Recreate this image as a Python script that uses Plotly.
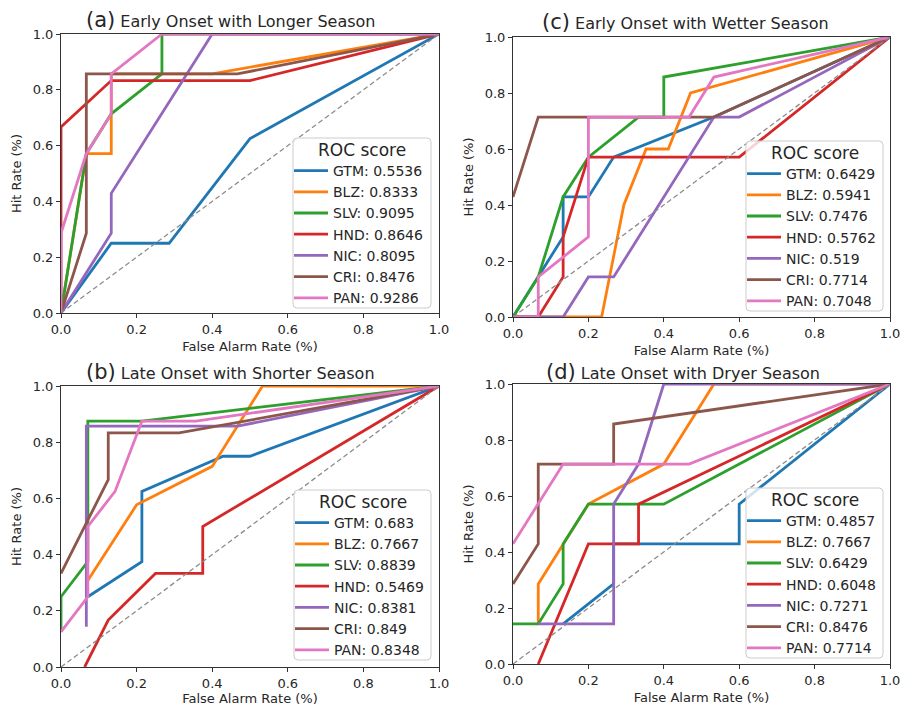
import plotly.graph_objects as go

COUNTRIES = ["GTM", "BLZ", "SLV", "HND", "NIC", "CRI", "PAN"]
COLORS = ["#1f77b4", "#ff7f0e", "#2ca02c", "#d62728", "#9467bd", "#8c564b", "#e377c2"]
TICKS = [0.0, 0.2, 0.4, 0.6, 0.8, 1.0]

# (a) Early Onset with Longer Season
A_GTM_X = [0, 0.133, 0.286, 0.5, 1.0];            A_GTM_Y = [0, 0.25, 0.25, 0.625, 1.0]
A_BLZ_X = [0, 0.067, 0.133, 0.133, 0.4, 1.0];     A_BLZ_Y = [0, 0.571, 0.571, 0.857, 0.857, 1.0]
A_SLV_X = [0, 0.067, 0.133, 0.267, 0.267, 1.0];   A_SLV_Y = [0, 0.571, 0.714, 0.857, 1.0, 1.0]
A_HND_X = [0, 0, 0.133, 0.5, 1.0];                A_HND_Y = [0, 0.667, 0.833, 0.833, 1.0]
A_NIC_X = [0, 0.133, 0.133, 0.4, 1.0];            A_NIC_Y = [0, 0.286, 0.429, 1.0, 1.0]
A_CRI_X = [0, 0.067, 0.067, 0.467, 1.0];          A_CRI_Y = [0, 0.286, 0.857, 0.857, 1.0]
A_PAN_X = [0, 0, 0.067, 0.133, 0.133, 0.267, 1.0]; A_PAN_Y = [0, 0.286, 0.571, 0.714, 0.857, 1.0, 1.0]
A_SCORES = ["0.5536", "0.8333", "0.9095", "0.8646", "0.8095", "0.8476", "0.9286"]

# (b) Late Onset with Shorter Season
B_GTM_X = [0.071, 0.214, 0.214, 0.429, 0.5, 1.0]; B_GTM_Y = [0.25, 0.375, 0.625, 0.75, 0.75, 1.0]
B_BLZ_X = [0.067, 0.2, 0.4, 0.533, 1.0];          B_BLZ_Y = [0.3, 0.577, 0.714, 1.0, 1.0]
B_SLV_X = [0, 0, 0.071, 0.071, 0.214, 1.0];       B_SLV_Y = [0.125, 0.25, 0.375, 0.875, 0.875, 1.0]
B_HND_X = [0.0625, 0.125, 0.25, 0.375, 0.375, 1.0]; B_HND_Y = [0, 0.167, 0.333, 0.333, 0.5, 1.0]
B_NIC_X = [0.067, 0.067, 0.467, 1.0];             B_NIC_Y = [0.143, 0.857, 0.857, 1.0]
B_CRI_X = [0, 0.125, 0.125, 0.3125, 1.0];         B_CRI_Y = [0.333, 0.667, 0.833, 0.833, 1.0]
B_PAN_X = [0, 0.071, 0.071, 0.143, 0.214, 0.357, 1.0]; B_PAN_Y = [0.125, 0.25, 0.5, 0.625, 0.875, 0.875, 1.0]
B_SCORES = ["0.683", "0.7667", "0.8839", "0.5469", "0.8381", "0.849", "0.8348"]

# (c) Early Onset with Wetter Season
C_GTM_X = [0, 0.067, 0.133, 0.133, 0.2, 0.267, 0.533, 1.0]; C_GTM_Y = [0, 0.143, 0.286, 0.429, 0.429, 0.571, 0.714, 1.0]
C_BLZ_X = [0, 0.235, 0.294, 0.353, 0.412, 0.471, 1.0];      C_BLZ_Y = [0, 0, 0.4, 0.6, 0.6, 0.8, 1.0]
C_SLV_X = [0, 0.067, 0.133, 0.2, 0.333, 0.4, 0.4, 1.0];     C_SLV_Y = [0, 0.143, 0.429, 0.571, 0.714, 0.714, 0.857, 1.0]
C_HND_X = [0, 0.067, 0.133, 0.133, 0.2, 0.6, 1.0];          C_HND_Y = [0, 0, 0.143, 0.286, 0.571, 0.571, 1.0]
C_NIC_X = [0, 0.133, 0.2, 0.267, 0.533, 0.6, 1.0];          C_NIC_Y = [0, 0, 0.143, 0.143, 0.714, 0.714, 1.0]
C_CRI_X = [0, 0.067, 0.533, 1.0];                           C_CRI_Y = [0.429, 0.714, 0.714, 1.0]
C_PAN_X = [0, 0.067, 0.067, 0.2, 0.2, 0.467, 0.533, 1.0];   C_PAN_Y = [0, 0, 0.143, 0.286, 0.714, 0.714, 0.857, 1.0]
C_SCORES = ["0.6429", "0.5941", "0.7476", "0.5762", "0.519", "0.7714", "0.7048"]

# (d) Late Onset with Dryer Season
D_GTM_X = [0.133, 0.267, 0.267, 0.6, 0.6, 1.0];   D_GTM_Y = [0.143, 0.286, 0.429, 0.429, 0.571, 1.0]
D_BLZ_X = [0.067, 0.067, 0.2, 0.4, 0.533, 1.0];   D_BLZ_Y = [0.143, 0.286, 0.571, 0.714, 1.0, 1.0]
D_SLV_X = [0, 0.067, 0.133, 0.133, 0.2, 0.4, 1.0]; D_SLV_Y = [0.143, 0.143, 0.286, 0.429, 0.571, 0.571, 1.0]
D_HND_X = [0.067, 0.2, 0.333, 0.333, 1.0];        D_HND_Y = [0, 0.429, 0.429, 0.571, 1.0]
D_NIC_X = [0.067, 0.267, 0.267, 0.333, 0.4, 1.0]; D_NIC_Y = [0.143, 0.143, 0.571, 0.714, 1.0, 1.0]
D_CRI_X = [0, 0.067, 0.067, 0.267, 0.267, 1.0];   D_CRI_Y = [0.286, 0.429, 0.714, 0.714, 0.857, 1.0]
D_PAN_X = [0, 0.133, 0.467, 1.0];                 D_PAN_Y = [0.429, 0.714, 0.714, 1.0]
D_SCORES = ["0.4857", "0.7667", "0.6429", "0.6048", "0.7271", "0.8476", "0.7714"]

TITLES = {
    "a": "Early Onset with Longer Season",
    "b": "Late Onset with Shorter Season",
    "c": "Early Onset with Wetter Season",
    "d": "Late Onset with Dryer Season",
}

W, H = 904, 706
FONT = "DejaVu Sans"
TXT = "#262626"

panels = [
    # key, axis suffix, legend name, xs, ys, scores, axes box px (l, r, top, bottom),
    # legend box px (l, r, top), title center px
    ("a", "", "legend",
     [A_GTM_X, A_BLZ_X, A_SLV_X, A_HND_X, A_NIC_X, A_CRI_X, A_PAN_X],
     [A_GTM_Y, A_BLZ_Y, A_SLV_Y, A_HND_Y, A_NIC_Y, A_CRI_Y, A_PAN_Y],
     A_SCORES, (61, 439, 34, 313), (293, 431, 138), (230, 20)),
    ("c", "2", "legend2",
     [C_GTM_X, C_BLZ_X, C_SLV_X, C_HND_X, C_NIC_X, C_CRI_X, C_PAN_X],
     [C_GTM_Y, C_BLZ_Y, C_SLV_Y, C_HND_Y, C_NIC_Y, C_CRI_Y, C_PAN_Y],
     C_SCORES, (513, 890, 37, 317), (746, 883, 141), (685, 22)),
    ("b", "3", "legend3",
     [B_GTM_X, B_BLZ_X, B_SLV_X, B_HND_X, B_NIC_X, B_CRI_X, B_PAN_X],
     [B_GTM_Y, B_BLZ_Y, B_SLV_Y, B_HND_Y, B_NIC_Y, B_CRI_Y, B_PAN_Y],
     B_SCORES, (61, 439, 386, 667), (294, 431, 490), (231, 372)),
    ("d", "4", "legend4",
     [D_GTM_X, D_BLZ_X, D_SLV_X, D_HND_X, D_NIC_X, D_CRI_X, D_PAN_X],
     [D_GTM_Y, D_BLZ_Y, D_SLV_Y, D_HND_Y, D_NIC_Y, D_CRI_Y, D_PAN_Y],
     D_SCORES, (513, 890, 384, 664), (746, 883, 488), (683, 372)),
]

LEG_H = 170
RAD = 4


def px(xp):
    return xp / W


def py(yp):
    return 1 - yp / H


def rounded_box(l, r, t, b):
    rx, ry = RAD / W, RAD / H
    L, R, T, B = px(l), px(r), py(t), py(b)
    return (f"M {L + rx},{T} L {R - rx},{T} Q {R},{T} {R},{T - ry} "
            f"L {R},{B + ry} Q {R},{B} {R - rx},{B} L {L + rx},{B} "
            f"Q {L},{B} {L},{B + ry} L {L},{T - ry} Q {L},{T} {L + rx},{T} Z")


fig = go.Figure()
layout = dict(
    width=W, height=H,
    margin=dict(l=0, r=0, t=0, b=0),
    paper_bgcolor="white", plot_bgcolor="white",
    font=dict(family=FONT, color=TXT, size=13),
    annotations=[], shapes=[],
)

for key, sfx, leg, xs, ys, scores, box, lbox, tpos in panels:
    xa, ya = "x" + sfx, "y" + sfx
    for i, c in enumerate(COUNTRIES):
        fig.add_trace(go.Scatter(
            x=xs[i], y=ys[i], mode="lines", xaxis=xa, yaxis=ya,
            name=f"{c}: {scores[i]}", legend=leg,
            line=dict(color=COLORS[i], width=2.8),
        ))
    fig.add_trace(go.Scatter(
        x=[0, 1], y=[0, 1], mode="lines", xaxis=xa, yaxis=ya, showlegend=False,
        line=dict(color="#8c8c8c", width=1.3, dash="5px,3px"), hoverinfo="skip",
    ))
    l, r, t, b = box
    axcommon = dict(
        range=[0, 1], tickvals=TICKS, ticktext=[f"{v:.1f}" for v in TICKS],
        showgrid=False, zeroline=False, showline=True, mirror=True,
        linecolor="#333333", linewidth=1, ticks="outside", ticklen=4,
        tickcolor="#333333", tickfont=dict(size=13, color=TXT, family=FONT),
        automargin=False, fixedrange=True,
    )
    layout["xaxis" + sfx] = dict(
        axcommon, domain=[px(l), px(r)], anchor=ya,
        title=dict(text="False Alarm Rate (%)", font=dict(size=13, color=TXT), standoff=6),
    )
    layout["yaxis" + sfx] = dict(
        axcommon, domain=[py(b), py(t)], anchor=xa,
        title=dict(text="Hit Rate (%)", font=dict(size=13, color=TXT), standoff=8),
    )
    ll, lr, lt = lbox
    lb = lt + LEG_H
    layout["shapes"].append(dict(
        type="path", xref="paper", yref="paper", path=rounded_box(ll, lr, lt, lb),
        fillcolor="rgba(255,255,255,0.8)", line=dict(color="#cccccc", width=1),
        layer="above",
    ))
    layout["annotations"].append(dict(
        x=px((ll + lr) / 2), y=py(lt + 12), xref="paper", yref="paper",
        xanchor="center", yanchor="middle", showarrow=False, text="ROC score",
        font=dict(size=17, color=TXT, family=FONT),
    ))
    layout[leg] = dict(
        x=px(ll - 4), y=py(lt + 17), xanchor="left", yanchor="top",
        bgcolor="rgba(0,0,0,0)", borderwidth=0,
        font=dict(size=14, color=TXT, family=FONT),
        itemwidth=34, tracegroupgap=0,
    )
    layout["annotations"].append(dict(
        x=px(tpos[0]), y=py(tpos[1]), xref="paper", yref="paper",
        xanchor="center", yanchor="middle", showarrow=False,
        text=f"<span style='font-size:21px'>({key})</span> {TITLES[key]}",
        font=dict(size=16, color=TXT, family=FONT),
    ))

fig.update_layout(**layout)
fig.write_html(
    "out.html",
    config={"displayModeBar": False},
    post_script="document.body.style.margin='0';document.body.style.overflow='hidden';",
)
